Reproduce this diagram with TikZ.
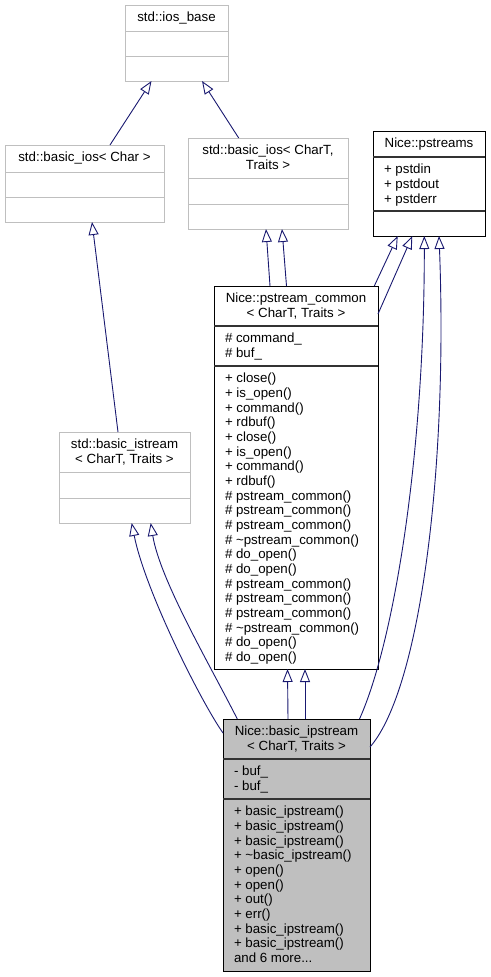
\documentclass[tikz,border=0pt]{standalone}
\usepackage{fontspec}
\setmainfont{Liberation Sans}
\usetikzlibrary{arrows.meta,calc}
\definecolor{edgeblue}{RGB}{25,25,112}
\definecolor{stdgray}{RGB}{191,191,191}
\definecolor{fillgray}{RGB}{191,191,191}
\begin{document}
\begin{tikzpicture}[x=1pt,y=-1pt,
  every node/.style={inner sep=0pt, outer sep=0pt},
  lbl/.style={font=\fontsize{13.3}{14.67}\selectfont},
  stdbox/.style={draw=stdgray, line width=1pt, fill=white, anchor=north west},
  nicebox/.style={draw=black, line width=1pt, fill=white, anchor=north west},
  curbox/.style={draw=black, line width=1pt, fill=fillgray, anchor=north west},
  stddiv/.style={draw=stdgray, line width=1pt},
  nicediv/.style={draw=black!80, line width=1.1pt},
  inh/.style={draw=edgeblue, line width=0.9pt, -{Triangle[open,length=13pt,width=10pt]}},
]
\useasboundingbox (0,0) rectangle (490,977);

% ---- boxes ----
\node[stdbox, minimum width=103pt, minimum height=76pt] (iosbase) at (125,5) {};
\draw[stddiv] (125,31) -- (228,31) (125,56) -- (228,56);
\node[lbl, anchor=base] (iosbaseT) at (176.5,21.7) {std::ios\_base};

\node[stdbox, minimum width=159pt, minimum height=77pt] (bioschar) at (5,145) {};
\draw[stddiv] (5,172) -- (164,172) (5,197) -- (164,197);
\node[lbl, anchor=base] (bioscharT) at (84.5,161.7) {std::basic\_ios< Char >};

\node[stdbox, minimum width=160pt, minimum height=91pt] (bios) at (188,138) {};
\draw[stddiv] (188,178) -- (348,178) (188,204) -- (348,204);
\node[lbl, anchor=base] (biosT1) at (268,154.7) {std::basic\_ios< CharT,};
\node[lbl, anchor=base] (biosT2) at (268,169.4) {Traits >};

\node[nicebox, minimum width=112pt, minimum height=105pt] (pstreams) at (373,131) {};
\draw[nicediv] (373,157) -- (485,157) (373,211) -- (485,211);
\node[lbl, anchor=base] (pstreamsT) at (429,147.7) {Nice::pstreams};
\node[lbl, anchor=base west] (psm1) at (384,173.7) {+ pstdin};
\node[lbl, anchor=base west] (psm2) at (384,188.4) {+ pstdout};
\node[lbl, anchor=base west] (psm3) at (384,203.0) {+ pstderr};

\node[stdbox, minimum width=131pt, minimum height=91pt] (bistream) at (59,432) {};
\draw[stddiv] (59,472) -- (190,472) (59,498) -- (190,498);
\node[lbl, anchor=base] (bistreamT1) at (124.5,448.7) {std::basic\_istream};
\node[lbl, anchor=base] (bistreamT2) at (124.5,463.4) {< CharT, Traits >};

\node[nicebox, minimum width=164pt, minimum height=383pt] (common) at (214,286) {};
\draw[nicediv] (214,326) -- (378,326) (214,366) -- (378,366);
\node[lbl, anchor=base] (commonT1) at (296,302.7) {Nice::pstream\_common};
\node[lbl, anchor=base] (commonT2) at (296,317.4) {< CharT, Traits >};
\node[lbl, anchor=base west] (commonA1) at (225,342.7) {\# command\_};
\node[lbl, anchor=base west] (commonA2) at (225,357.4) {\# buf\_};
\foreach \t [count=\i from 0] in {+ close(), + is\_open(), + command(), + rdbuf(),
  + close(), + is\_open(), + command(), + rdbuf(),
  \# pstream\_common(), \# pstream\_common(), \# pstream\_common(), \# \textasciitilde pstream\_common(),
  \# do\_open(), \# do\_open(),
  \# pstream\_common(), \# pstream\_common(), \# pstream\_common(), \# \textasciitilde pstream\_common(),
  \# do\_open(), \# do\_open()}
  \node[lbl, anchor=base west] (commonM\i) at (225,{382.7+\i*14.67}) {\t};

\node[curbox, minimum width=147pt, minimum height=252pt] (ipstream) at (223,719) {};
\draw[nicediv] (223,759) -- (370,759) (223,799) -- (370,799);
\node[lbl, anchor=base] (ipstreamT1) at (296.5,735.7) {Nice::basic\_ipstream};
\node[lbl, anchor=base] (ipstreamT2) at (296.5,750.4) {< CharT, Traits >};
\node[lbl, anchor=base west] (ipstreamA1) at (234,775.7) {- buf\_};
\node[lbl, anchor=base west] (ipstreamA2) at (234,790.4) {- buf\_};
\foreach \t [count=\i from 0] in {+ basic\_ipstream(), + basic\_ipstream(), + basic\_ipstream(),
  + \textasciitilde basic\_ipstream(), + open(), + open(), + out(), + err(),
  + basic\_ipstream(), + basic\_ipstream()}
  \node[lbl, anchor=base west] (ipstreamM\i) at (234,{815.7+\i*14.67}) {\t};
\node[lbl, anchor=base west] (ipstreamMore) at (234,962.4) {and 6 more.{}.{}.};

% ---- inheritance connectors ----
\draw[inh] ($(bioschar.north west)+(105,0)$) -- ($(iosbase.south west)+(26.5,0)$);
\draw[inh] ($(bios.north west)+(50.7,0)$) -- ($(iosbase.south west)+(77,0)$);
\draw[inh] ($(bistream.north west)+(59,0)$) -- ($(bioschar.south west)+(87,0)$);

\draw[inh] ($(common.north west)+(56,0)$) -- ($(bios.south west)+(78,0)$);
\draw[inh] ($(common.north west)+(72.5,0)$) -- ($(bios.south west)+(94,0)$);

\draw[inh] ($(common.north east)+(-3.7,0)$) -- ($(pstreams.south west)+(24.7,0)$);
\draw[inh] ($(common.north east)+(0,28)$) -- ($(pstreams.south west)+(39.3,0)$);

\draw[inh] ($(ipstream.north west)+(136.5,0)$) .. controls (395,640) and (424.5,450) .. ($(pstreams.south west)+(51.3,0)$);
\draw[inh] ($(ipstream.north east)+(0,28)$) .. controls (420,690) and (448,470) .. ($(pstreams.south west)+(66,0)$);

\draw[inh] ($(ipstream.north west)+(0,14)$) .. controls (200,700) and (145,590) .. ($(bistream.south west)+(72.7,0)$);
\draw[inh] ($(ipstream.north west)+(14.3,0)$) .. controls (210,665) and (160,580) .. ($(bistream.south west)+(91.7,0)$);

\draw[inh] ($(ipstream.north west)+(65,0)$) -- ($(common.south west)+(73.5,0)$);
\draw[inh] ($(ipstream.north west)+(82,0)$) -- ($(common.south west)+(91,0)$);
\end{tikzpicture}
\end{document}
